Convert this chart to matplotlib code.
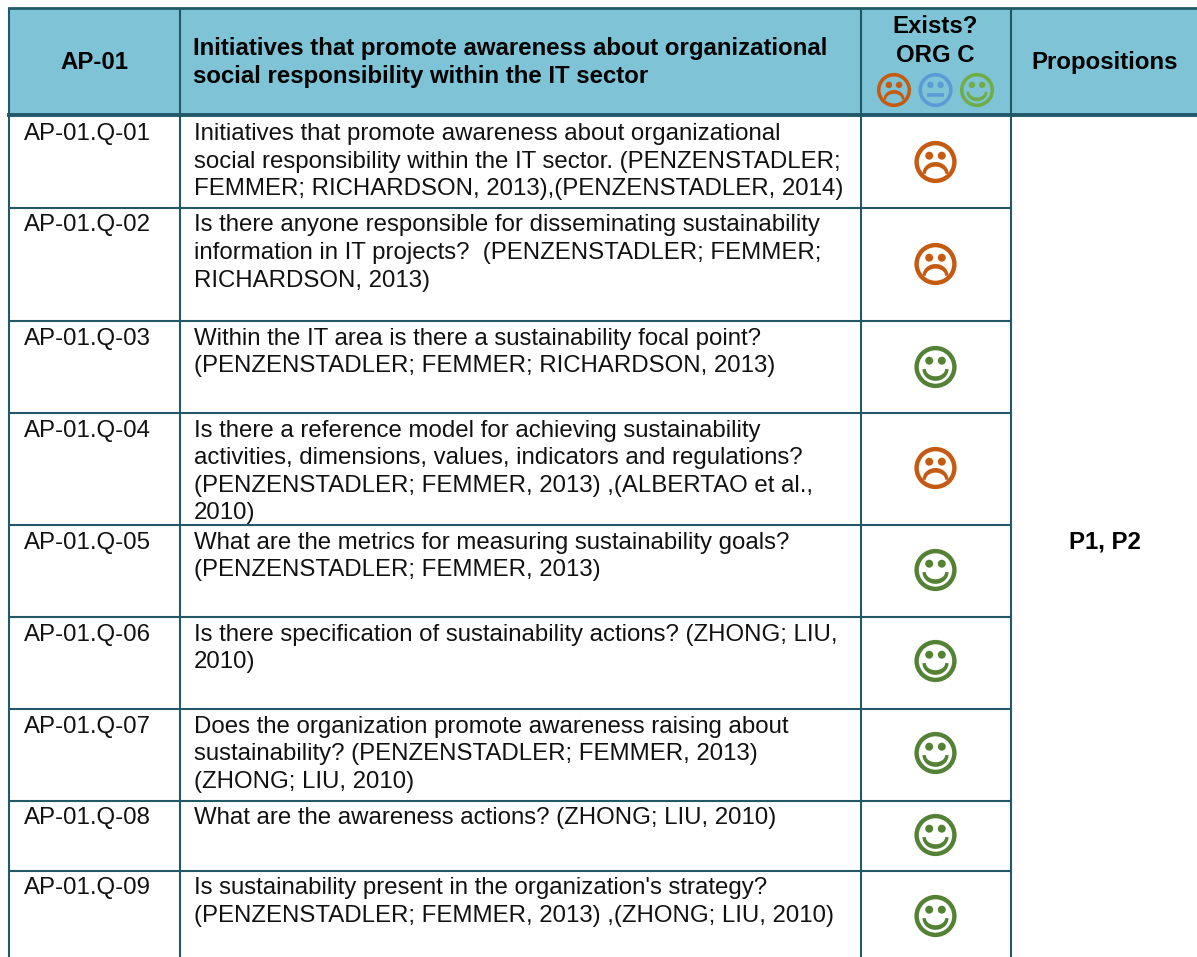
import numpy as np
import matplotlib
matplotlib.use('Agg')
import matplotlib.pyplot as plt
from matplotlib.patches import Rectangle, Circle, Polygon

W, H = 1197, 957

header_cols = ['AP-01',
               'Initiatives that promote awareness about organizational\nsocial responsibility within the IT sector',
               'Exists?\nORG C',
               'Propositions']
row_ids = ['AP-01.Q-%02d' % i for i in range(1, 10)]
questions = [
    'Initiatives that promote awareness about organizational\nsocial responsibility within the IT sector. (PENZENSTADLER;\nFEMMER; RICHARDSON, 2013),(PENZENSTADLER, 2014)',
    'Is there anyone responsible for disseminating sustainability\ninformation in IT projects?  (PENZENSTADLER; FEMMER;\nRICHARDSON, 2013)',
    'Within the IT area is there a sustainability focal point?\n(PENZENSTADLER; FEMMER; RICHARDSON, 2013)',
    'Is there a reference model for achieving sustainability\nactivities, dimensions, values, indicators and regulations?\n(PENZENSTADLER; FEMMER, 2013) ,(ALBERTAO et al.,\n2010)',
    'What are the metrics for measuring sustainability goals?\n(PENZENSTADLER; FEMMER, 2013)',
    'Is there specification of sustainability actions? (ZHONG; LIU,\n2010)',
    'Does the organization promote awareness raising about\nsustainability? (PENZENSTADLER; FEMMER, 2013)\n(ZHONG; LIU, 2010)',
    'What are the awareness actions? (ZHONG; LIU, 2010)',
    "Is sustainability present in the organization's strategy?\n(PENZENSTADLER; FEMMER, 2013) ,(ZHONG; LIU, 2010)",
]
status = ['sad', 'sad', 'happy', 'sad', 'happy', 'happy', 'happy', 'happy', 'happy']
propositions = 'P1, P2'

col_x = [9, 180, 860.5, 1011, 1197]
row_y = [115, 208, 321, 413, 525, 617, 709, 800.5, 870.5, 957]
face_y = [162, 264, 367, 468, 570, 661, 753, 835, 916]
top = 8

LINE = '#215968'
HEAD = '#7EC4D6'
FACE_COL = {'sad': '#C55A11', 'neutral': '#5B9BD5', 'happy': '#548235'}
FS = 17.3
LS = 1.325
TXT = '#111111'
plt.rcParams['font.family'] = ['Liberation Sans', 'DejaVu Sans']

fig = plt.figure(figsize=(W / 100, H / 100), dpi=100)
ax = fig.add_axes([0, 0, 1, 1])
ax.set_xlim(0, W)
ax.set_ylim(H, 0)
ax.axis('off')


def mouth(x, y0, r, sign, col):
    # crescent, sign=1 opens up (smile), sign=-1 opens down (frown)
    t = np.linspace(0, np.pi, 40)
    outer = np.c_[x + 0.62 * r * np.cos(t), y0 + sign * 0.56 * r * np.sin(t)]
    inner = np.c_[x + 0.46 * r * np.cos(t[::-1]), y0 + sign * 0.34 * r * np.sin(t[::-1])]
    ax.add_patch(Polygon(np.r_[outer, inner], fc=col, ec='none', zorder=4))


def face(x, y, r, kind, col):
    lw = r * 0.21 * 0.72
    ax.add_patch(Circle((x, y), r * 0.9, fc='none', ec=col, lw=lw, zorder=3))
    for s in (-1, 1):
        ax.add_patch(Circle((x + s * r * 0.30, y - r * 0.30), r * 0.19, fc=col, ec='none', zorder=4))
    if kind == 'happy':
        mouth(x, y + r * 0.10, r, 1, col)
    elif kind == 'sad':
        mouth(x, y + r * 0.56, r, -1, col)
    else:
        ax.plot([x - r * 0.48, x + r * 0.48], [y + r * 0.3, y + r * 0.3], color=col, lw=lw, solid_capstyle='butt', zorder=4)


# header
ax.add_patch(Rectangle((col_x[0], top), col_x[-1] - col_x[0], row_y[0] - top, fc=HEAD, ec='none'))
ax.text((col_x[0] + col_x[1]) / 2, 62.5, header_cols[0], fontsize=FS, fontweight='bold', ha='center', va='center')
ax.text(193, 62.5, header_cols[1], fontsize=FS, fontweight='bold', ha='left', va='center', linespacing=LS)
ax.text(935.5, 41, header_cols[2], fontsize=FS, fontweight='bold', ha='center', va='center', linespacing=LS)
ax.text(1105, 62, header_cols[3], fontsize=FS, fontweight='bold', ha='center', va='center')
for x, kind, col in zip([894, 935.5, 977], ['sad', 'neutral', 'happy'], ['#C55A11', '#5B9BD5', '#70AD47']):
    face(x, 90, 17, kind, col)

# body
for i in range(len(row_ids)):
    off = 8 if i == 0 else 6.5
    ax.text(24, row_y[i] + off, row_ids[i], fontsize=FS, ha='left', va='top', color=TXT)
    ax.text(194, row_y[i] + off, questions[i], fontsize=FS, ha='left', va='top', linespacing=LS, color=TXT)
    face(935.5, face_y[i], 21, status[i], FACE_COL[status[i]])
ax.text(1105, 542, propositions, fontsize=FS, fontweight='bold', ha='center', va='center')

# grid
for x in col_x[:-1]:
    ax.plot([x, x], [top, H], color=LINE, lw=1.5, solid_capstyle='butt', zorder=2)
ax.plot([col_x[0], W], [top, top], color=LINE, lw=2, zorder=2)
ax.plot([col_x[0], W], [row_y[0], row_y[0]], color=LINE, lw=2.8, zorder=2)
for y in row_y[1:-1]:
    ax.plot([col_x[0], col_x[3]], [y, y], color=LINE, lw=1.5, zorder=2)

fig.savefig('out.png', dpi=100)
